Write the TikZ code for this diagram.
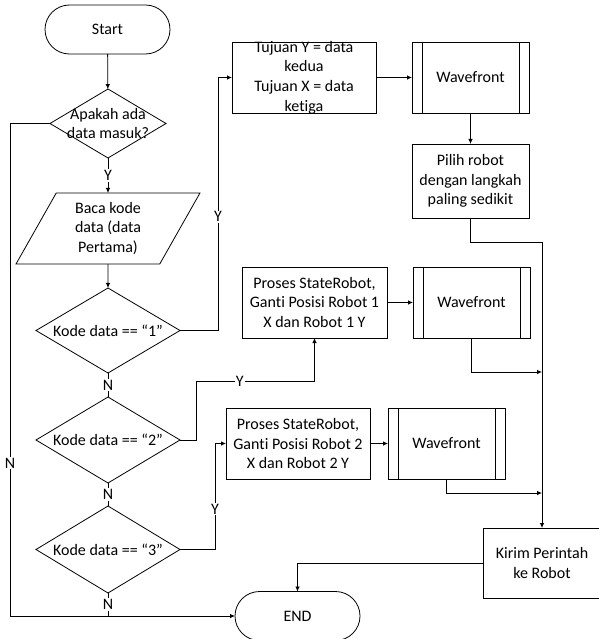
\documentclass[tikz,border=0pt]{standalone}
\usepackage{fontspec}
\setmainfont{Carlito}[Ligatures={NoCommon}]
\usetikzlibrary{shapes.geometric,shapes.misc,arrows.meta}
\begin{document}
\begin{tikzpicture}[x=1pt,y=-1pt,
  font=\fontsize{16}{19.6}\selectfont,
  every node/.style={inner sep=0pt, outer sep=0pt},
  line/.style={draw=black, line width=0.8pt},
  arr/.style={line, -{Latex[length=5pt,width=4.5pt]}},
  term/.style={line, rounded rectangle, minimum width=125pt, minimum height=49pt},
  dec/.style={line, diamond, minimum width=144pt, minimum height=85pt},
  proc/.style={line, rectangle, align=center},
  pre/.style={proc, path picture={\draw[line width=0.8pt]
      ([xshift=10pt]path picture bounding box.north west) -- ([xshift=10pt]path picture bounding box.south west)
      ([xshift=-10pt]path picture bounding box.north east) -- ([xshift=-10pt]path picture bounding box.south east);}},
  lbl/.style={fill=white, inner sep=1pt}
]
\useasboundingbox (0,0) rectangle (598,639);

% left column
\node[term] (start) at (107.5,29.5) {Start};
\node[dec, minimum width=116pt, minimum height=69pt,
  label={[name=d0t,align=center]center:Apakah ada\\data masuk?}] (d0) at (108,123.5) {};
\node[line, trapezium, trapezium left angle=64, trapezium right angle=116,
  trapezium stretches=true, minimum width=184pt, minimum height=71pt, align=center]
  (baca) at (108,228.5) {Baca kode\\data (data\\Pertama)};
\node[dec, label={[name=d1t]center:Kode data == “1”}] (d1) at (108,330.5) {};
\node[dec, minimum height=86pt, label={[name=d2t]center:Kode data == “2”}] (d2) at (108,440) {};
\node[dec, minimum height=87pt, label={[name=d3t]center:Kode data == “3”}] (d3) at (108,549.5) {};
\node[term] (end) at (297.5,616) {END};

% right part
\node[proc, minimum width=144pt, minimum height=71pt,
  label={[name=tujt,align=center]center:Tujuan Y = data\\kedua\\Tujuan X = data\\ketiga}] (tuj) at (304,77.5) {};
\node[pre, minimum width=117pt, minimum height=71pt] (w1) at (470.5,77.5) {Wavefront};
\node[proc, minimum width=117pt, minimum height=74pt] (pilih) at (470.5,181) {Pilih robot\\dengan langkah\\paling sedikit};
\node[proc, minimum width=145pt, minimum height=71pt] (p1) at (314.5,302.5) {Proses StateRobot,\\Ganti Posisi Robot 1\\X dan Robot 1 Y};
\node[pre, minimum width=117pt, minimum height=71pt] (w2) at (471.5,302.5) {Wavefront};
\node[proc, minimum width=144pt, minimum height=71pt] (p2) at (298,443.5) {Proses StateRobot,\\Ganti Posisi Robot 2\\X dan Robot 2 Y};
\node[pre, minimum width=117pt, minimum height=71pt] (w3) at (446.5,443.5) {Wavefront};
\node[proc, minimum width=118pt, minimum height=70pt] (kirim) at (542,563) {Kirim Perintah\\ke Robot};

% helper coordinates
\coordinate (nl) at (10,123.5);
\coordinate (nb) at (10,616);
\coordinate (y1a) at (218,330.5);
\coordinate (y1b) at (218,77.5);
\coordinate (y2a) at (196,440);
\coordinate (y2b) at (196,381);
\coordinate (y2c) at (314.5,381);
\coordinate (y3a) at (215,549.5);
\coordinate (y3b) at (215,443.5);
\coordinate (j1) at (542,372);
\coordinate (j2) at (542,493);

% connectors
\draw[arr] (start) -- (d0);
\draw[arr] (d0) -- node[lbl]{Y} (baca);
\draw[arr] (baca) -- (d1);
\draw[line] (d1) -- node[lbl]{N} (d2);
\draw[line] (d2) -- node[lbl]{N} (d3);
\draw[line] (d3.south) -- node[lbl]{N} (d3.south |- nb);
\draw[arr] (d0.west) -- (nl) -- node[lbl,pos=0.69]{N} (nb) -- (end.west);
\draw[arr] (d1.east) -- (y1a) -- node[lbl,pos=0.45]{Y} (y1b) -- (tuj.west);
\draw[arr] (tuj) -- (w1);
\draw[arr] (w1) -- (pilih);
\draw[arr] (pilih.south) -- ++(0,24) -| (kirim.north);
\draw[arr] (d2.east) -- (y2a) -- (y2b) -- node[lbl,pos=0.37]{Y} (y2c) -- (p1.south);
\draw[arr] (p1) -- (w2);
\draw[arr] (w2.south) |- (j1);
\draw[arr] (d3.east) -- (y3a) -- node[lbl,pos=0.38]{Y} (y3b) -- (p2.west);
\draw[arr] (p2) -- (w3);
\draw[arr] (w3.south) |- (j2);
\draw[arr] (kirim.west) -| (end.north);
\end{tikzpicture}
\end{document}
